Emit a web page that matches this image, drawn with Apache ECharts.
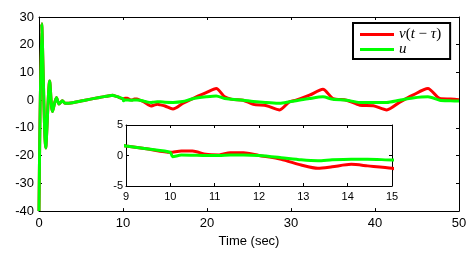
<!DOCTYPE html>
<html><head><meta charset="utf-8">
<script src="https://cdn.jsdelivr.net/npm/echarts@6/dist/echarts.min.js"></script>
<style>html,body{margin:0;padding:0;background:#fff}#c{width:476px;height:253px}</style>
</head><body><div id="c"></div>
<script>
// time (sec)
const time = [0, 0.32, 0.8, 1.27, 1.6, 2.07, 2.38, 2.79, 3.1,
  4, 5, 6, 7.2, 8, 8.8, 9, 9.5, 10,
  10.05, 10.25, 10.5, 10.8, 11.1, 11.35, 11.65, 12,
  12.5, 12.95, 13.33, 13.65, 14.08, 14.45, 15,
  15.95, 17.1, 18.3, 19.9, 21.1, 22.1, 23,
  24.3, 25.5, 27.1, 28.65, 29.8, 30.6,
  32.2, 33.8, 35, 36.6, 38.2, 39.8,
  41.4, 42.9, 44.5, 46.3, 47.7, 49, 50];
// v(t - tau)
const vDelayed = [-40, 27.6, -17.2, 6.9, -4.1, 1.0, -1.4, -0.2, -1.1,
  -0.9, -0.3, 0.3, 1.0, 1.4, 1.8, 1.56, 1.05, 0.52,
  0.55, 0.72, 0.74, 0.2, 0.1, 0.46, 0.46, 0.0,
  -0.63, -1.56, -2.1, -1.85, -1.45, -1.7, -2.1,
  -3.2, -1.2, 0.6, 2.7, 4.2, 1.2, 0.3,
  0, -1.5, -2.0, -3.5, -0.6, 0,
  1.8, 3.9, 0.6, 0, -1.8, -2.0,
  -3.5, -0.8, 1.8, 4.2, 0.6, 0.4, 0.2];
// u
const u = [-40, 27.6, -17.2, 6.9, -4.1, 1.0, -1.4, -0.2, -1.1,
  -0.9, -0.3, 0.3, 1.0, 1.4, 1.8, 1.56, 1.05, 0.52,
  -0.2, 0.08, 0.05, 0, 0, 0.1, 0.1, 0,
  -0.35, -0.7, -0.85, -0.7, -0.6, -0.6, -0.74,
  -0.8, -0.5, 0.5, 1.2, 1.55, 0.6, 0.3,
  0, -0.5, -0.8, -1.1, -0.6, -0.2,
  0.6, 1.2, 0.3, 0, -0.8, -0.8,
  -0.8, 0, 0.8, 1.2, 0, -0.2, -0.3];

const seriesNames = ['v(t \u2212 \u03c4)', 'u'];
const mainXRange = [0, 50, 10];
const mainYRange = [-40, 30, 10];
const insetXRange = [9, 15, 1];
const insetYRange = [-5, 5, 5];

const FONT = 'Liberation Sans, Arial, sans-serif';
const pairs = vals => time.map((t, i) => [t, vals[i]]);

function axis(kind, grid, range, pos, showLabel, fs, margin, tick) {
  return {
    type: 'value', gridIndex: grid, position: pos,
    min: range[0], max: range[1], interval: range[2],
    axisLine: { show: true, onZero: false, lineStyle: { color: '#000', width: 1 } },
    axisTick: { show: true, inside: true, length: tick, lineStyle: { color: '#000', width: 1 } },
    axisLabel: { show: showLabel, color: '#000', fontSize: fs, fontFamily: FONT, margin: margin },
    splitLine: { show: false }
  };
}

const xMain = axis('x', 0, mainXRange, 'bottom', true, 13, 6, 3);
xMain.name = 'Time (sec)';
xMain.nameLocation = 'middle';
xMain.nameGap = 23;
xMain.nameTextStyle = { color: '#000', fontSize: 13, fontFamily: FONT };

const chart = echarts.init(document.getElementById('c'), null, { renderer: 'canvas' });
chart.setOption({
  animation: false,
  backgroundColor: '#fff',
  grid: [
    { left: 39, right: 17, top: 17, bottom: 39 },
    { left: 126, right: 84, top: 125, bottom: 67 }
  ],
  xAxis: [
    xMain,
    axis('x', 0, mainXRange, 'top', false, 13, 6, 3),
    axis('x', 1, insetXRange, 'bottom', true, 11, 5, 3),
    axis('x', 1, insetXRange, 'top', false, 11, 5, 3)
  ],
  yAxis: [
    axis('y', 0, mainYRange, 'left', true, 13, 5, 3),
    axis('y', 0, mainYRange, 'right', false, 13, 5, 3),
    axis('y', 1, insetYRange, 'left', true, 11, 3, 3),
    axis('y', 1, insetYRange, 'right', false, 11, 3, 3)
  ],
  legend: {
    data: seriesNames,
    orient: 'vertical',
    left: 353, top: 23,
    padding: [4, 9, 2, 7],
    itemGap: 0,
    itemWidth: 34, itemHeight: 3,
    icon: 'rect',
    backgroundColor: '#fff',
    borderColor: '#000', borderWidth: 2,
    formatter: name => name === 'u' ? '{i|u}' : '{i|v}({i|t} \u2212 {i|\u03c4})',
    textStyle: {
      fontFamily: 'Liberation Serif, serif', fontSize: 15, lineHeight: 15, color: '#000',
      rich: { i: { fontFamily: 'Liberation Serif, serif', fontStyle: 'italic', fontSize: 15, lineHeight: 15, color: '#000' } }
    }
  },
  series: [
    { name: seriesNames[0], type: 'line', xAxisIndex: 0, yAxisIndex: 0, data: pairs(vDelayed), smooth: 0.25, symbol: 'none', color: '#ff0000', lineStyle: { width: 3, color: '#ff0000' }, clip: true },
    { name: seriesNames[1], type: 'line', xAxisIndex: 0, yAxisIndex: 0, data: pairs(u), smooth: 0.25, symbol: 'none', color: '#00ff00', lineStyle: { width: 3, color: '#00ff00' }, clip: true },
    { name: seriesNames[0], type: 'line', xAxisIndex: 2, yAxisIndex: 2, data: pairs(vDelayed), smooth: 0.25, symbol: 'none', color: '#ff0000', lineStyle: { width: 3, color: '#ff0000' }, clip: true },
    { name: seriesNames[1], type: 'line', xAxisIndex: 2, yAxisIndex: 2, data: pairs(u), smooth: 0.25, symbol: 'none', color: '#00ff00', lineStyle: { width: 3, color: '#00ff00' }, clip: true }
  ]
});
</script></body></html>
